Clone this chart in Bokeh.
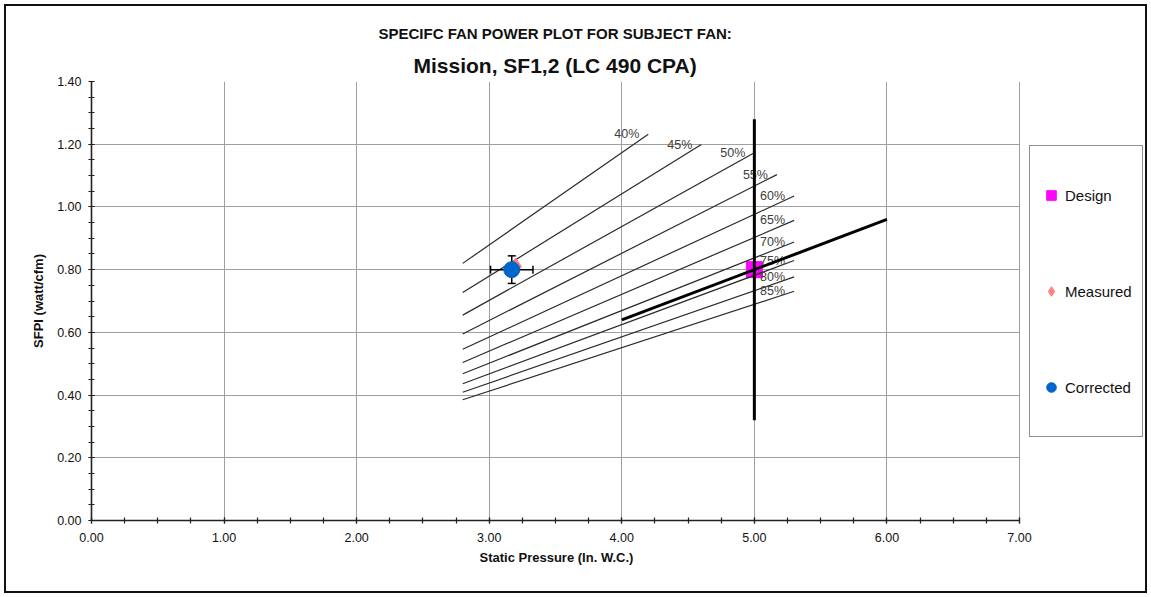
import math
from bokeh.plotting import figure
from bokeh.models import (Range1d, FixedTicker, NumeralTickFormatter, Legend, LegendItem,
                          Title, ColumnDataSource)
from bokeh.core.properties import value
from bokeh.embed import file_html
from bokeh.resources import INLINE

FONT = "Liberation Sans"

# ---------------- data ----------------
eff_labels = ["40%", "45%", "50%", "55%", "60%", "65%", "70%", "75%", "80%", "85%"]
eff_x_start = [2.8, 2.8, 2.8, 2.8, 2.8, 2.8, 2.8, 2.8, 2.8, 2.8]
eff_y_start = [0.82, 0.727, 0.655, 0.595, 0.546, 0.504, 0.468, 0.436, 0.409, 0.385]
eff_x_end = [4.2, 4.6, 5.0, 5.17, 5.3, 5.3, 5.3, 5.3, 5.3, 5.3]
eff_y_end = [1.232, 1.199, 1.173, 1.103, 1.035, 0.957, 0.888, 0.829, 0.777, 0.731]

design_x = [5.0]
design_y = [0.80]
measured_x = [3.20]
measured_y = [0.81]
corrected_x = [3.17]
corrected_y = [0.80]
corrected_err_x = [0.16]
corrected_err_y = [0.044]

design_range_x = [5.0, 5.0]
design_range_y = [0.32, 1.28]
system_x = [4.0, 6.0]
system_y = [0.64, 0.96]

x_ticks = [0.0, 1.0, 2.0, 3.0, 4.0, 5.0, 6.0, 7.0]
y_ticks = [0.0, 0.2, 0.4, 0.6, 0.8, 1.0, 1.2, 1.4]

title_main = "SPECIFC FAN POWER PLOT FOR SUBJECT FAN:"
title_sub = "Mission, SF1,2 (LC 490 CPA)"
x_label = "Static Pressure (In. W.C.)"
y_label = "SFPI (watt/cfm)"

# ---------------- layout ----------------
W, H = 1151, 597
LEFT, RIGHT_AXIS_END, TOP, BOTTOM = 91, 1019, 81, 520
FRAME_RIGHT = 1147
x_axis_max = x_ticks[-1]
# the frame extends to the right under the legend; the axis itself stops at 7.00
x_view_max = x_axis_max * (FRAME_RIGHT - LEFT) / (RIGHT_AXIS_END - LEFT)

p = figure(width=W, height=H, output_backend="svg", toolbar_location=None,
           title=None,
           x_range=Range1d(0, x_view_max), y_range=Range1d(0, y_ticks[-1]),
           min_border_left=LEFT, min_border_right=W - FRAME_RIGHT,
           min_border_top=TOP, min_border_bottom=H - BOTTOM)
p.outline_line_color = None
p.background_fill_alpha = 0
p.border_fill_alpha = 0
p.styles = {"outline": "2px solid #111111", "outline-offset": "-6px",
            "background-color": "white"}

x_minor = [i * 0.25 for i in range(0, 29)]
y_minor = [i * 0.05 for i in range(0, 29)]
xt = FixedTicker(ticks=x_ticks, minor_ticks=x_minor)
yt = FixedTicker(ticks=y_ticks, minor_ticks=y_minor)
p.xaxis.ticker = xt
p.yaxis.ticker = yt
p.xgrid.ticker = xt
p.ygrid.ticker = yt
p.xaxis.bounds = (0, x_axis_max)
p.ygrid.cross_bounds = (0, x_axis_max)
for g in (p.xgrid, p.ygrid):
    g.grid_line_color = "#a0a0a0"
    g.grid_line_width = 1

for ax in (p.xaxis, p.yaxis):
    ax.formatter = NumeralTickFormatter(format="0.00")
    ax.axis_line_color = "#222222"
    ax.axis_line_width = 1.6
    ax.major_tick_line_color = "#222222"
    ax.minor_tick_line_color = "#222222"
    ax.major_tick_line_width = 1.2
    ax.minor_tick_line_width = 1.2
    ax.major_tick_in = 3
    ax.major_tick_out = 3
    ax.minor_tick_in = 3
    ax.minor_tick_out = 3
    ax.major_label_text_font = FONT
    ax.major_label_text_font_size = "12.5px"
    ax.major_label_text_color = "#111111"
    ax.axis_label_text_font = FONT
    ax.axis_label_text_font_size = "13px"
    ax.axis_label_text_font_style = "bold"
    ax.axis_label_text_color = "#111111"

p.yaxis.axis_label = y_label
p.xaxis.major_label_standoff = 9
p.yaxis.major_label_standoff = 7
p.yaxis.axis_label_standoff = 8
p.yaxis.major_label_orientation = "horizontal"

# x-axis caption, centred under the 0..7 span of the axis
p.add_layout(Title(text=x_label, align="left", offset=388, text_font=FONT,
                   text_font_size="13px", text_font_style="bold", text_color="#111111",
                   standoff=6), "below")

# titles (first added is closest to plot); centred over the 0..7 axis span
p.add_layout(Title(text=title_sub, align="left", offset=322, text_font=FONT,
                   text_font_size="21px", text_font_style="bold", text_color="#111111",
                   standoff=10), "above")
p.add_layout(Title(text=title_main, align="left", offset=287, text_font=FONT,
                   text_font_size="15px", text_font_style="bold", text_color="#111111",
                   standoff=9), "above")

# design marker (drawn below the lines)
r_design = p.scatter(design_x, design_y, marker="square", size=16,
                     fill_color="#FF00FF", line_color="#FF00FF")

# efficiency lines
eff_src = ColumnDataSource(dict(x0=eff_x_start, y0=eff_y_start, x1=eff_x_end, y1=eff_y_end,
                                lab=eff_labels))
p.segment(x0="x0", y0="y0", x1="x1", y1="y1", source=eff_src,
          line_color="#2a2a2a", line_width=1.2)
p.text(x="x1", y="y1", text="lab", source=eff_src, x_offset=-9,
       text_align="right", text_baseline="middle", text_font_size="12.5px",
       text_color="#404040", text_font=value(FONT))

# thick lines
p.line(design_range_x, design_range_y, line_color="black", line_width=3)
p.line(system_x, system_y, line_color="black", line_width=3)

# measured point
r_meas = p.scatter(measured_x, measured_y, marker="diamond", size=17,
                   fill_color="#FF8080", line_color="#FF8080")

# error bars of corrected point
ex0 = [corrected_x[0] - corrected_err_x[0]]
ex1 = [corrected_x[0] + corrected_err_x[0]]
ey0 = [corrected_y[0] - corrected_err_y[0]]
ey1 = [corrected_y[0] + corrected_err_y[0]]
p.segment(x0=ex0, y0=corrected_y, x1=ex1, y1=corrected_y, line_color="black", line_width=1.5)
p.segment(x0=corrected_x, y0=ey0, x1=corrected_x, y1=ey1, line_color="black", line_width=1.5)
p.scatter(corrected_x + corrected_x, ey0 + ey1, marker="dash", size=8,
          line_color="black", line_width=1.5)
p.scatter(ex0 + ex1, corrected_y + corrected_y, marker="dash", size=8, angle=math.pi / 2,
          line_color="black", line_width=1.5)

r_corr = p.scatter(corrected_x, corrected_y, marker="circle", size=16,
                   fill_color="#0066CC", line_color="#0066CC")

legend = Legend(items=[LegendItem(label="Design", renderers=[r_design]),
                       LegendItem(label="Measured", renderers=[r_meas]),
                       LegendItem(label="Corrected", renderers=[r_corr])],
                location=(1029 - LEFT, BOTTOM - 437), padding=9, glyph_width=24,
                glyph_height=80, label_height=80, spacing=16, label_standoff=2,
                label_width=68, border_line_color="#222222", border_line_width=1.5,
                margin=0, label_text_font=FONT, label_text_font_size="15px",
                label_text_color="#111111", background_fill_color="white",
                background_fill_alpha=1)
p.add_layout(legend, "center")

open("out.html", "w").write(file_html(p, INLINE))
